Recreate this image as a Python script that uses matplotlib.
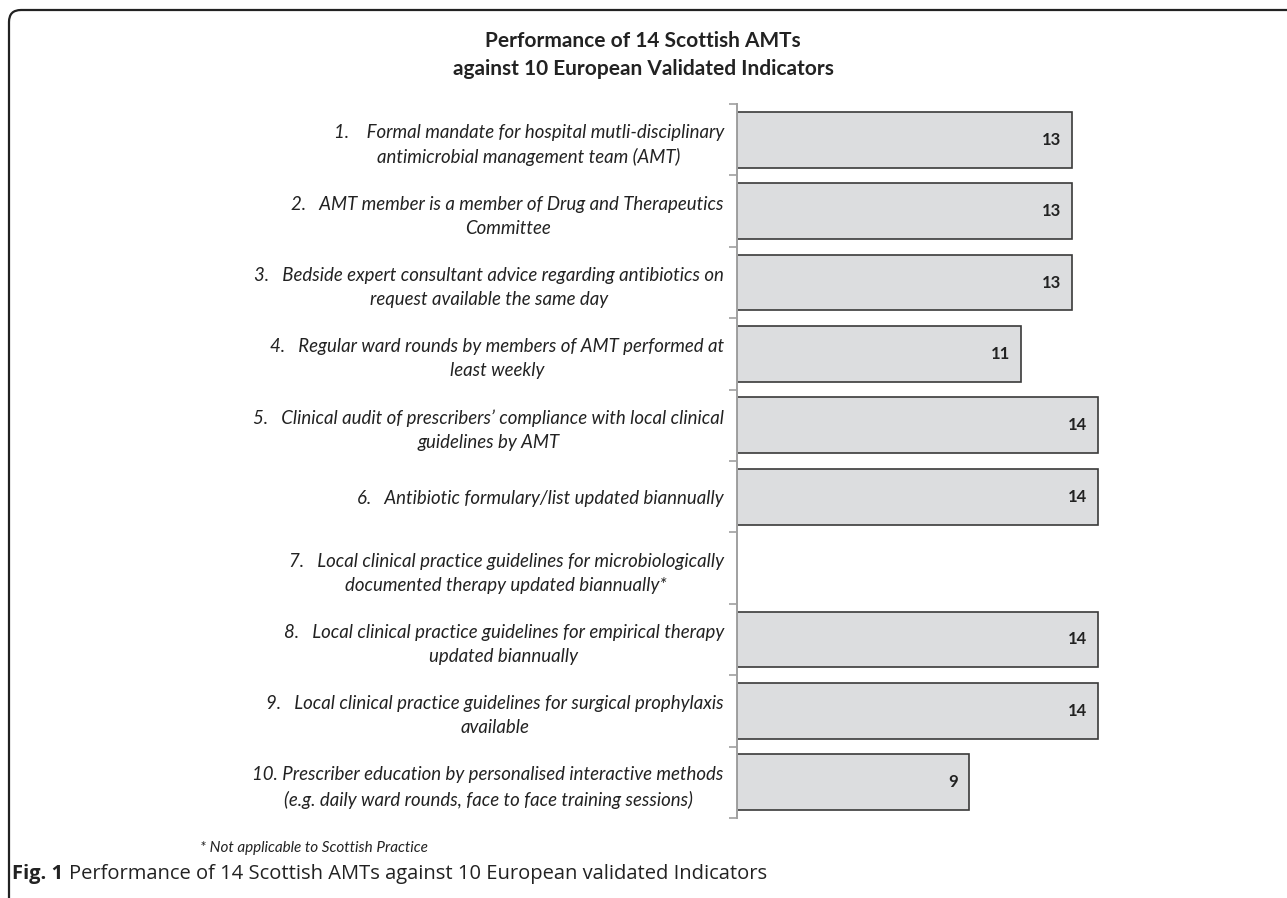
import numpy as np
import matplotlib
matplotlib.use("Agg")
import matplotlib.pyplot as plt
from matplotlib.path import Path
from matplotlib.patches import PathPatch

# indicator labels and number of AMTs meeting each one (item 7 not applicable)
indicators = [
    "1.    Formal mandate for hospital mutli-disciplinary\nantimicrobial management team (AMT)",
    "2.   AMT member is a member of Drug and Therapeutics\nCommittee",
    "3.   Bedside expert consultant advice regarding antibiotics on\nrequest available the same day",
    "4.   Regular ward rounds by members of AMT performed at\nleast weekly",
    "5.   Clinical audit of prescribers\u2019 compliance with local clinical\nguidelines by AMT",
    "6.   Antibiotic formulary/list updated biannually",
    "7.   Local clinical practice guidelines for microbiologically\ndocumented therapy updated biannually*",
    "8.   Local clinical practice guidelines for empirical therapy\nupdated biannually",
    "9.   Local clinical practice guidelines for surgical prophylaxis\navailable",
    "10. Prescriber education by personalised interactive methods\n(e.g. daily ward rounds, face to face training sessions)",
]
amts = [13, 13, 13, 11, 14, 14, np.nan, 14, 14, 9]

title = "Performance of 14 Scottish AMTs\nagainst 10 European Validated Indicators"
footnote = "* Not applicable to Scottish Practice"
caption_bold = "Fig. 1"
caption = "Performance of 14 Scottish AMTs against 10 European validated Indicators"

W, H = 1287, 898
fig = plt.figure(figsize=(W / 100, H / 100), dpi=100)
ax = fig.add_axes([737 / W, 1 - 818 / H, (25.8 * 15) / W, (818 - 104) / H])

pos = np.arange(len(indicators))
bars = ax.barh(pos, amts, height=0.78, color="#dcdddf", edgecolor="#3a3a3a", linewidth=1.2)
for y, v in zip(pos, amts):
    if np.isnan(v):
        continue
    ax.annotate(f"{int(v)}", (v, y), xytext=(-8, 0), textcoords="offset points",
                ha="right", va="center", fontsize=12, fontweight="bold",
                family="Lato", color="#222222")

ax.set_xlim(0, 15)
ax.set_ylim(len(indicators) - 0.5, -0.5)
ax.set_xticks([])
ax.set_yticks(np.arange(-0.5, len(indicators)), minor=False)
ax.set_yticklabels([])
ax.set_yticks(pos, minor=True)
ax.set_yticklabels(indicators, minor=True, fontstyle="italic", family="Lato",
                   fontsize=13.4, color="#222222", multialignment="center",
                   linespacing=1.5)
ax.tick_params(axis="y", which="major", length=6, width=1.2, color="#a0a0a0")
ax.tick_params(axis="y", which="minor", length=0, pad=9.5)
for s in ["top", "right", "bottom"]:
    ax.spines[s].set_visible(False)
ax.spines["left"].set_color("#a0a0a0")
ax.spines["left"].set_linewidth(1.4)

fig.text(643 / W, 1 - 55 / H, title, ha="center", va="center", fontsize=15,
         fontweight="bold", family="Lato", color="#222222", linespacing=1.5)
fig.text(200 / W, 1 - 848 / H, footnote, ha="left", va="center", fontsize=11,
         fontstyle="italic", family="Lato", color="#222222")
t = fig.text(12 / W, 1 - 874 / H, caption_bold, ha="left", va="center", fontsize=14.5,
             fontweight="bold", family="Open Sans", color="#222222")
fig.canvas.draw()
bb = t.get_window_extent()
fig.text((bb.x1 + 6) / W, 1 - 874 / H, caption, ha="left", va="center",
         fontsize=14.5, family="Open Sans", color="#222222")

# rounded corner frame around the figure panel
r = 12
verts = [(9, H + 5), (9, 10 + r), (9, 10), (9 + r, 10), (W + 5, 10)]
codes = [Path.MOVETO, Path.LINETO, Path.CURVE3, Path.CURVE3, Path.LINETO]
verts = [(x / W, 1 - y / H) for x, y in verts]
fig.patches.append(PathPatch(Path(verts, codes), transform=fig.transFigure,
                             fill=False, edgecolor="#222222", linewidth=1.6))

fig.savefig("out.png", dpi=100)
